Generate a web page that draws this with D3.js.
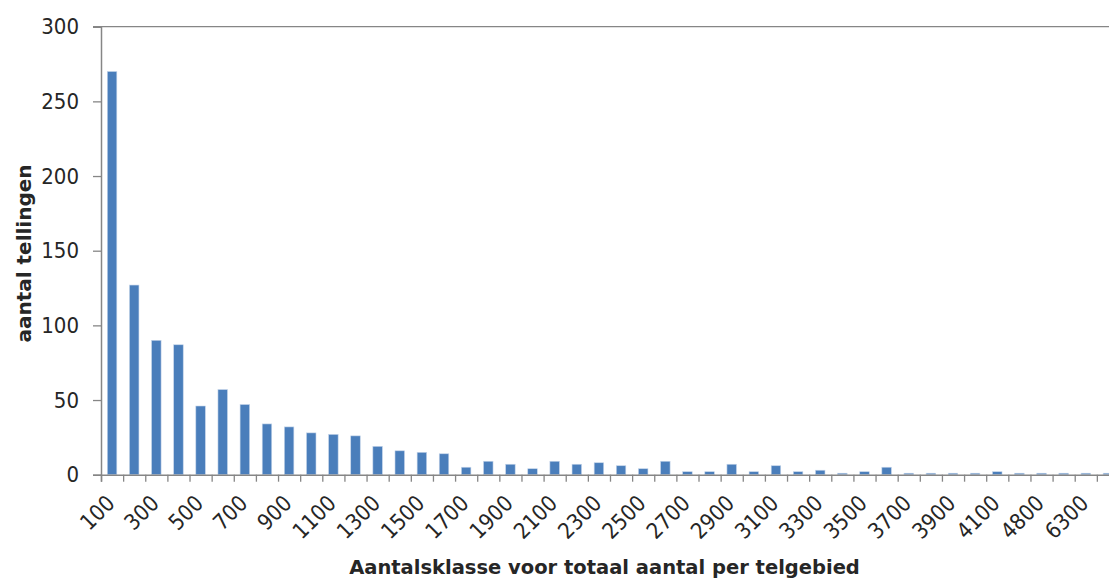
<!DOCTYPE html>
<html>
<head>
<meta charset="utf-8">
<script src="https://cdn.jsdelivr.net/npm/d3@7/dist/d3.min.js"></script>
<style>
  html, body { margin: 0; padding: 0; background: #fff; overflow: hidden; }
  svg { display: block; }
</style>
</head>
<body>
<svg id="chart" width="1109" height="579"></svg>
<script>
const categories = ["100","200","300","400","500","600","700","800","900","1000",
  "1100","1200","1300","1400","1500","1600","1700","1800","1900","2000",
  "2100","2200","2300","2400","2500","2600","2700","2800","2900","3000",
  "3100","3200","3300","3400","3500","3600","3700","3800","3900","4000",
  "4100","4400","4800","5300","6300","7100"];
const counts = [270,127,90,87,46,57,47,34,32,28,
  27,26,19,16,15,14,5,9,7,4,
  9,7,8,6,4,9,2,2,7,2,
  6,2,3,1,2,5,1,1,1,1,
  2,1,1,1,1,1];
const yTicks = [0,50,100,150,200,250,300];
const xTitle = "Aantalsklasse voor totaal aantal per telgebied";
const yTitle = "aantal tellingen";

const svg = d3.select("#chart");
const plotLeft = 101, plotTop = 26.7, plotBottom = 474.7;
const step = 22.13;
const plotRight = plotLeft + step * categories.length;

const x = d3.scaleBand().domain(categories).range([plotLeft, plotRight])
  .paddingInner(0.57).paddingOuter(0.285);
const xIdx = d3.scaleLinear().domain([0, categories.length]).range([plotLeft, plotRight]);
const y = d3.scaleLinear().domain([0, 300]).range([plotBottom, plotTop]);

const axisColor = "#868686";
const textColor = "#262626";
const tickFont = "'DejaVu Sans Condensed', 'DejaVu Sans', sans-serif";
const titleFont = "'DejaVu Sans', sans-serif";

// top line at 300
svg.append("line").attr("x1", plotLeft - 8).attr("x2", 1109)
  .attr("y1", y(300)).attr("y2", y(300))
  .attr("stroke", axisColor).attr("stroke-width", 1.3);

// bars
svg.append("g").selectAll("rect").data(counts).join("rect")
  .attr("x", (d, i) => x(categories[i]))
  .attr("width", x.bandwidth())
  .attr("y", d => y(d))
  .attr("height", d => y(0) - y(d))
  .attr("fill", "#4a7ebb")
  .attr("stroke", "#c5d5ea")
  .attr("stroke-width", 0.6);

// y axis
const gy = svg.append("g").attr("transform", `translate(${plotLeft},0)`)
  .call(d3.axisLeft(y).tickValues(yTicks).tickSize(8).tickPadding(14));
gy.select(".domain").attr("stroke", axisColor).attr("stroke-width", 1.5);
gy.selectAll(".tick line").attr("stroke", axisColor).attr("stroke-width", 1.3);
gy.selectAll(".tick text").attr("fill", textColor)
  .style("font-family", tickFont).style("font-size", "22px");

// x boundary ticks
const gxt = svg.append("g").attr("transform", `translate(0,${plotBottom})`)
  .call(d3.axisBottom(xIdx).tickValues(d3.range(0, categories.length + 1))
    .tickSize(7).tickFormat(""));
gxt.select(".domain").attr("stroke", axisColor).attr("stroke-width", 1.5);
gxt.selectAll(".tick line").attr("stroke", axisColor).attr("stroke-width", 1.3);

// x labels
const gx = svg.append("g").attr("transform", `translate(0,${plotBottom})`)
  .call(d3.axisBottom(x).tickSize(0).tickPadding(0)
    .tickFormat((d, i) => i % 2 === 0 ? d : ""));
gx.select(".domain").remove();
gx.selectAll(".tick text")
  .attr("fill", textColor)
  .style("font-family", tickFont).style("font-size", "22px")
  .attr("text-anchor", "end")
  .attr("y", 0)
  .attr("dy", 0)
  .attr("transform", "translate(4,30) rotate(-45)");

// titles
svg.append("text").attr("x", 604.5).attr("y", 573.5)
  .attr("text-anchor", "middle").attr("fill", textColor)
  .style("font-family", titleFont).style("font-size", "19.5px").style("font-weight", "bold")
  .text(xTitle);
svg.append("text").attr("transform", "translate(30.5,253.5) rotate(-90)")
  .attr("text-anchor", "middle").attr("fill", textColor)
  .style("font-family", titleFont).style("font-size", "20px").style("font-weight", "bold")
  .text(yTitle);
</script>
</body>
</html>
